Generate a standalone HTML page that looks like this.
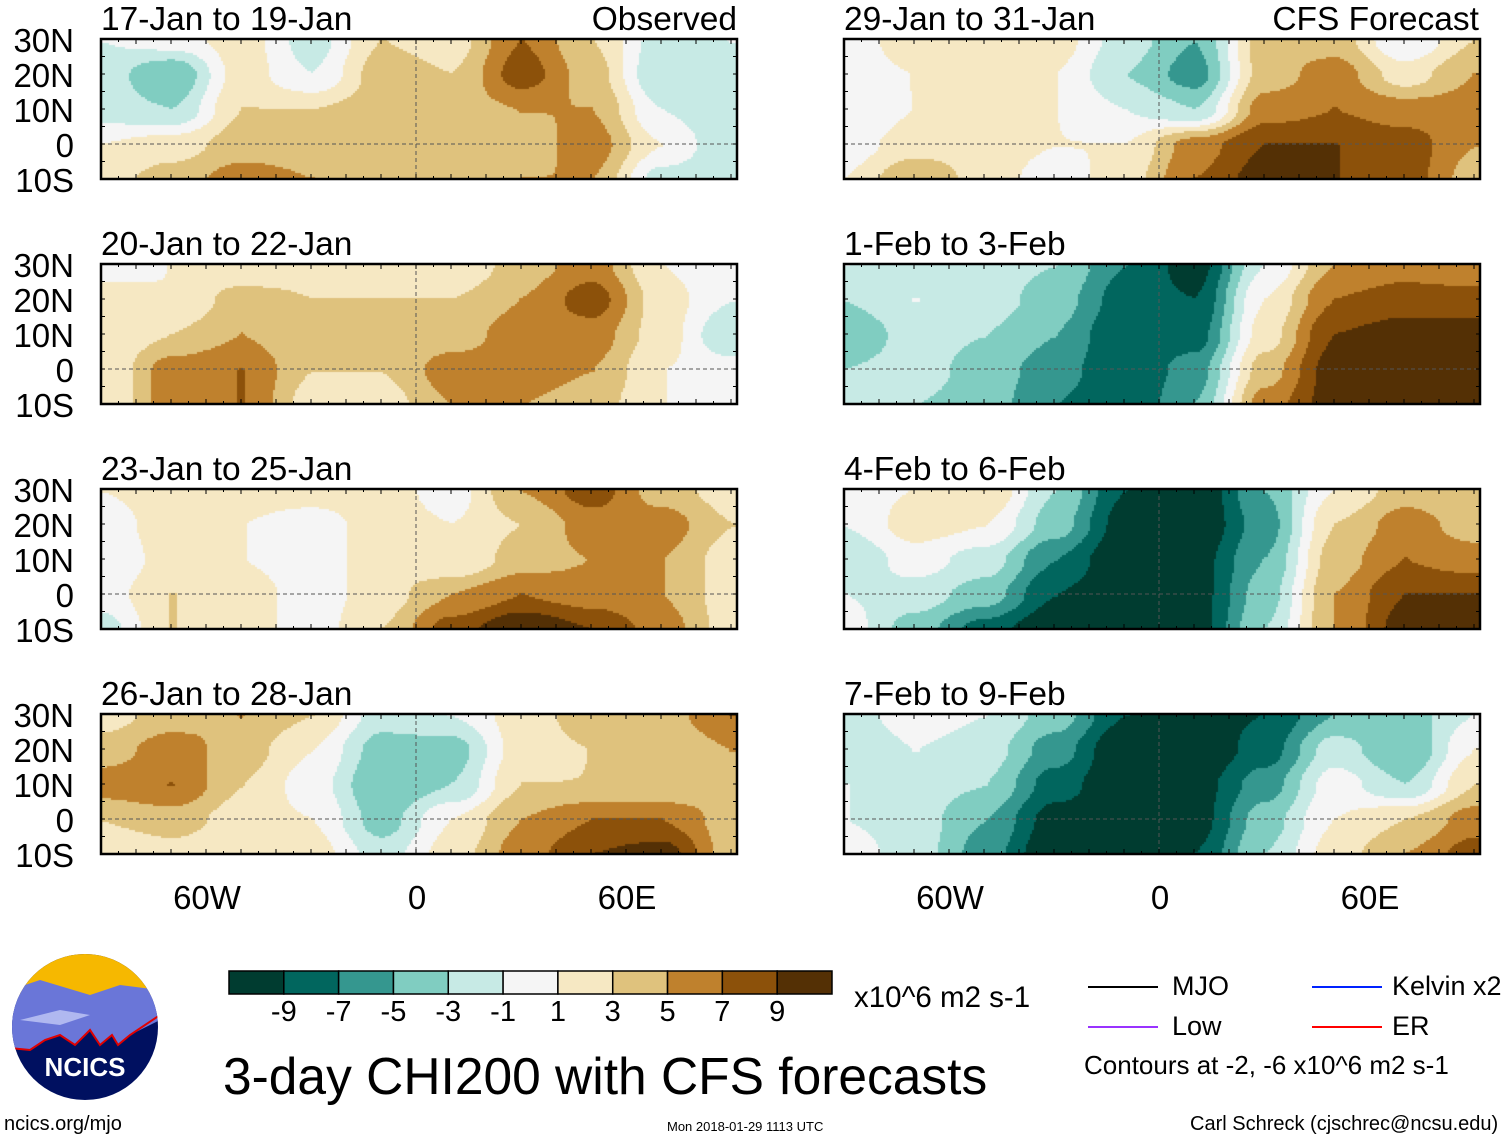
<!DOCTYPE html>
<html><head><meta charset="utf-8"><style>
body{margin:0;background:#fff;font-family:"Liberation Sans",sans-serif;}
#root{position:relative;width:1510px;height:1142px;overflow:hidden;background:#fff;}
.t{position:absolute;white-space:nowrap;color:#000;}
canvas{position:absolute;}
</style></head><body>
<div id="root">
<svg id="frames" width="1510" height="1142" style="position:absolute;left:0;top:0;z-index:2"></svg>
</div>
<script>
const lons=[-90,-70,-50,-30,-10,10,30,50,70,90];
const lats=[30,20,10,0,-10];
const titles=["17-Jan to 19-Jan","29-Jan to 31-Jan","20-Jan to 22-Jan","1-Feb to 3-Feb","23-Jan to 25-Jan","4-Feb to 6-Feb","26-Jan to 28-Jan","7-Feb to 9-Feb"];
const p1=[[-1,0,2,-2,3,2,7,3,-2,-1],[-2,-5,2,-1,4,3,8,4,-3,-2],[-2,-3,3,3,4,4,5,5,-1,-3],[1,2,4,4,3,4,4,6,1,-3],[2,4,6,5,4,3,5,5,-2,-3]];
const p2=[[0,2,2,2,-2,-5,4,4,-1,3],[0,1,2,1,-3,-6,4,6,2,5],[-1,1,2,1,-1,-3,6,7,6,6],[0,2,2,1,1,6,9,9,8,5],[1,5,2,0,2,7,10,9,8,4]];
const p3=[[0,1,1,2,2,1,4,6,1,-1],[2,1,4,3,3,3,5,8,2,-1],[1,3,5,3,3,4,6,6,2,-3],[1,6,7,3,3,6,6,5,1,0],[1,6,7,2,2,5,5,4,1,0]];
const p4=[[-1,-2,-2,-3,-7,-10,-1,5,6,5],[-3,-1,-2,-4,-8,-9,1,7,8,8],[-5,-2,-3,-5,-9,-8,2,9,10,10],[-3,-2,-4,-6,-9,-6,4,10,10,10],[-2,-3,-4,-7,-9,-5,6,10,10,10]];
const p5=[[1,2,2,2,2,0,5,8,4,2],[0,2,1,0,2,1,3,6,6,3],[-1,2,1,0,2,1,4,5,5,2],[0,3,2,0,2,5,7,6,5,2],[-2,3,2,0,3,8,11,9,6,2]];
const p6=[[0,1,3,-3,-9,-11,-5,1,4,3],[-1,2,1,-4,-10,-11,-6,3,6,4],[-3,0,-2,-7,-11,-10,-5,4,7,6],[-1,-2,-4,-9,-11,-10,-4,5,9,9],[0,-4,-8,-11,-11,-10,-3,5,10,10]];
const p7=[[2,4,5,3,-2,-1,2,4,4,7],[4,6,4,1,-4,-4,2,3,3,5],[6,7,3,0,-5,-3,3,3,3,4],[3,4,2,1,-4,1,5,7,7,4],[1,2,1,2,-2,2,6,9,10,4]];
const p8=[[-2,0,-1,-4,-9,-10,-9,-5,-4,-1],[-3,-1,-2,-6,-11,-11,-8,-2,-5,1],[-1,-2,-3,-8,-11,-10,-6,0,-3,3],[-1,-2,-5,-10,-11,-10,-4,1,3,6],[0,-2,-6,-11,-11,-9,-3,2,5,8]];
const panels=[p1,p2,p3,p4,p5,p6,p7,p8];
const levels=[-9,-7,-5,-3,-1,1,3,5,7,9];
const colors=["#003c30","#01665e","#35978f","#80cdc1","#c7eae5","#f5f5f5","#f6e8c3","#dfc27d","#bf812d","#8c510a","#543005"];
const cbLabels=["-9","-7","-5","-3","-1","1","3","5","7","9"];

const root=document.getElementById('root');
const svg=document.getElementById('frames');
const NS="http://www.w3.org/2000/svg";
const PW=636,PH=140,scale=3.5;
const lx=[101,844], ty=[39,264,489,714];
function xOf(lon,x0){return x0+(lon+90)*scale;}
function yOf(lat,y0){return y0+(30-lat)*scale;}
function colorOf(v){v+=0.0137;let i=0;while(i<levels.length&&v>=levels[i])i++;return colors[i];}
function sm(t){return t*t*(3-2*t);}
function field(d,lon,lat){
  let fx=(lon-lons[0])/20;fx=Math.max(0,Math.min(lons.length-1.0001,fx));
  let fy=(lats[0]-lat)/10;fy=Math.max(0,Math.min(lats.length-1.0001,fy));
  const i=Math.floor(fx),j=Math.floor(fy),tx=sm(fx-i),tyy=sm(fy-j);
  const a=d[j][i],b=d[j][i+1],c=d[j+1][i],e=d[j+1][i+1];
  return (a*(1-tx)+b*tx)*(1-tyy)+(c*(1-tx)+e*tx)*tyy;
}
function txt(s,x,y,size,name,anchor){
  const d=document.createElement('div');d.className='t';d.textContent=s;
  d.style.fontSize=size+'px';d.style.top=y+'px';
  if(anchor==='r'){d.style.right=(1510-x)+'px';}else if(anchor==='c'){d.style.left=x+'px';d.style.transform='translateX(-50%)';}else d.style.left=x+'px';
  
  
  root.appendChild(d);return d;
}
function line(x1,y1,x2,y2,st,w,dash,name){
  const l=document.createElementNS(NS,'line');
  l.setAttribute('x1',x1);l.setAttribute('y1',y1);l.setAttribute('x2',x2);l.setAttribute('y2',y2);
  l.setAttribute('stroke',st);l.setAttribute('stroke-width',w);if(dash)l.setAttribute('stroke-dasharray',dash);
  
  
  svg.appendChild(l);
}
panels.forEach((d,k)=>{
  const col=k%2,row=Math.floor(k/2),x0=lx[col],y0=ty[row];
  const cv=document.createElement('canvas');cv.width=PW;cv.height=PH;
  cv.style.left=x0+'px';cv.style.top=y0+'px';
  
  
  root.appendChild(cv);
  const ctx=cv.getContext('2d');
  for(let py=0;py<PH;py+=2)for(let px=0;px<PW;px+=2){
    const lon=px/scale-90,lat=30-py/scale;
    ctx.fillStyle=colorOf(field(d,lon,lat));ctx.fillRect(px,py,2,2);
  }
  const r=document.createElementNS(NS,'rect');
  r.setAttribute('x',x0);r.setAttribute('y',y0);r.setAttribute('width',PW);r.setAttribute('height',PH);
  r.setAttribute('fill','none');r.setAttribute('stroke','#000');r.setAttribute('stroke-width',2.5);
  
  
  svg.appendChild(r);
  line(x0,yOf(0,y0),x0+PW,yOf(0,y0),'#555',1,'4,3','equator-line');
  line(xOf(0,x0),y0,xOf(0,x0),y0+PH,'#555',1,'4,3','prime-meridian-line');
  for(let lon=-90;lon<=90;lon+=5){
    const x=xOf(lon,x0),len=lon%10===0?5:3;
    line(x,y0,x,y0+len,'#000',1,null,'x-tick');line(x,y0+PH,x,y0+PH-len,'#000',1,null,'x-tick');
  }
  for(let lat=-10;lat<=30;lat+=5){
    const y=yOf(lat,y0);
    line(x0,y,x0+4,y,'#000',1,null,'y-tick');line(x0+PW,y,x0+PW-4,y,'#000',1,null,'y-tick');
  }
  txt(titles[k],x0,y0-38,33.5,'panel-title');
  if(col===0){
    ["30N","20N","10N","0","10S"].forEach((s,i)=>txt(s,74,y0-17+i*35,33,'y-label','r'));
  }
});
txt("Observed",737,1,33.5,'observed-label','r');
txt("CFS Forecast",1479,1,33.5,'cfs-forecast-label','r');
[[101],[844]].forEach(([x0])=>{
  [["60W",-60],["0",0],["60E",60]].forEach(([s,lon])=>txt(s,xOf(lon,x0)+1,879,33,'x-label','c'));
});
const cbx=229,cby=971,cbw=603/11;
colors.forEach((c,i)=>{
  const r=document.createElementNS(NS,'rect');
  r.setAttribute('x',cbx+i*cbw);r.setAttribute('y',cby);r.setAttribute('width',cbw);r.setAttribute('height',23);
  r.setAttribute('fill',c);r.setAttribute('stroke','#000');r.setAttribute('stroke-width',1.5);
  
  
  svg.appendChild(r);
});
cbLabels.forEach((s,i)=>txt(s,cbx+(i+1)*cbw,996,29,'colorbar-label','c'));
txt("x10^6 m2 s-1",854,981,29.5,'colorbar-units');
txt("3-day CHI200 with CFS forecasts",223,1046,51.5,'figure-title');
[["MJO","#000",1088,987],["Low","#9933ff",1088,1027],["Kelvin x2","#0022ff",1312,987],["ER","#ff0000",1312,1027]].forEach(([s,c,x,y])=>{
  line(x,y,x+70,y,c,2,null,'legend-line-'+s.split(' ')[0].toLowerCase());
  txt(s,x+(s==="MJO"||s==="Low"?84:80),y-16,27,'legend-label');
});
txt("Contours at -2, -6 x10^6 m2 s-1",1084,1050,26,'contour-note');
txt("ncics.org/mjo",4,1113,20,'ncics-url');
txt("Mon 2018-01-29 1113 UTC",667,1119,13,'timestamp');
txt("Carl Schreck (cjschrec@ncsu.edu)",1190,1113,20,'author-credit');
const g=document.createElementNS(NS,'g');
g.innerHTML='<defs><clipPath id="lc"><circle cx="85" cy="1027" r="73"/></clipPath></defs>'+
'<g clip-path="url(#lc)"><rect x="10" y="950" width="150" height="160" fill="#001060"/>'+
'<rect x="10" y="950" width="150" height="45" fill="#f6b800"/>'+
'<path d="M10 990 L40 980 L90 995 L120 985 L160 990 L160 1020 L140 1030 L130 1035 L118 1045 L112 1035 L100 1045 L90 1030 L75 1045 L60 1035 L45 1040 L30 1050 L10 1048Z" fill="#6a76d8" stroke="none"/>'+
'<path d="M10 1048 L30 1050 L45 1040 L60 1035 L75 1045 L90 1030 L100 1045 L112 1035 L118 1045 L130 1035 L160 1015" fill="none" stroke="#e00000" stroke-width="2"/>'+
'<path d="M20 1020 L60 1010 L90 1015 L60 1025Z" fill="#b0b8f0"/></g>';
svg.appendChild(g);
const nt=document.createElementNS(NS,'text');nt.setAttribute('x',85);nt.setAttribute('y',1076);nt.setAttribute('text-anchor','middle');
nt.setAttribute('font-size','26');nt.setAttribute('font-weight','bold');nt.setAttribute('fill','#fff');nt.setAttribute('font-family','Liberation Sans');nt.textContent='NCICS';


svg.appendChild(nt);
</script>
</body></html>
